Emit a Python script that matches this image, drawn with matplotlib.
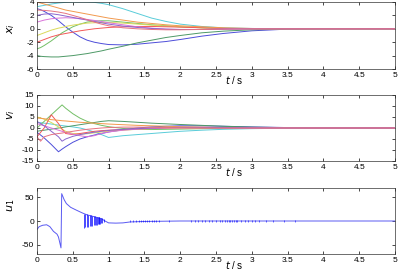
import numpy as np
import matplotlib
matplotlib.use('Agg')
import matplotlib.pyplot as plt

plt.rcParams['font.family'] = ['Liberation Sans', 'DejaVu Sans']
plt.rcParams['axes.unicode_minus'] = False

# common time grid of the read-off points
t = [0, .05, .1, .2, .3, .35, .4, .5, .6, .7, .8, .9, 1.0, 1.2, 1.4, 1.6, 1.8,
     2.0, 2.3, 2.6, 3.0, 3.5, 4.0, 5.0]

colors = [(0.35, 0.8, 0.85), (0.3, 0.3, 0.85), (0.3, 0.6, 0.4), (0.45, 0.75, 0.4),
          (0.85, 0.85, 0.35), (0.95, 0.35, 0.35), (0.95, 0.6, 0.3), (0.85, 0.45, 0.85),
          (0.55, 0.4, 0.8), (0.9, 0.45, 0.5)]

# states x_i
x_cyan = [3.3, 3.4, 3.5, 3.7, 3.85, 3.9, 3.95, 4.0, 4.0, 4.0, 3.95, 3.8, 3.6, 3.0, 2.3, 1.6, 1.1, 0.7, 0.35, 0.15, 0.05, 0.0, 0.0, 0.0]
x_blue = [3.0, 2.85, 2.6, 2.0, 1.2, 0.75, 0.3, -0.5, -1.2, -1.7, -2.0, -2.2, -2.35, -2.4, -2.3, -2.1, -1.9, -1.6, -1.1, -0.7, -0.3, -0.05, 0.0, 0.0]
x_dgreen = [-4.0, -4.1, -4.15, -4.2, -4.2, -4.15, -4.1, -4.0, -3.85, -3.7, -3.5, -3.3, -3.05, -2.6, -2.1, -1.7, -1.3, -1.0, -0.6, -0.35, -0.15, -0.05, 0.0, 0.0]
x_lgreen = [-3.0, -2.8, -2.5, -1.8, -1.0, -0.6, -0.3, 0.3, 0.7, 1.0, 1.15, 1.2, 1.2, 1.0, 0.8, 0.6, 0.45, 0.3, 0.15, 0.05, 0.0, 0.0, 0.0, 0.0]
x_yellow = [-1.0, -0.8, -0.6, -0.2, 0.1, 0.2, 0.35, 0.55, 0.7, 0.85, 0.9, 0.95, 0.95, 0.85, 0.7, 0.55, 0.4, 0.3, 0.15, 0.05, 0.0, 0.0, 0.0, 0.0]
x_red = [-2.0, -1.8, -1.6, -1.2, -0.9, -0.8, -0.7, -0.5, -0.3, -0.15, 0.0, 0.1, 0.2, 0.3, 0.35, 0.35, 0.3, 0.25, 0.15, 0.05, 0.0, 0.0, 0.0, 0.0]
x_orange = [4.0, 3.85, 3.7, 3.4, 3.1, 2.95, 2.8, 2.6, 2.4, 2.2, 2.0, 1.8, 1.6, 1.3, 1.0, 0.8, 0.6, 0.45, 0.3, 0.15, 0.05, 0.0, 0.0, 0.0]
x_magenta = [1.0, 1.15, 1.3, 1.5, 1.6, 1.62, 1.65, 1.6, 1.5, 1.4, 1.25, 1.1, 0.9, 0.6, 0.3, 0.1, -0.05, -0.1, -0.1, -0.05, 0.0, 0.0, 0.0, 0.0]
x_purple = [2.0, 2.1, 2.2, 2.25, 2.1, 2.0, 1.9, 1.7, 1.5, 1.3, 1.1, 0.9, 0.7, 0.4, 0.2, 0.05, -0.05, -0.1, -0.1, -0.05, 0.0, 0.0, 0.0, 0.0]
x_red2 = [2.8, 2.78, 2.75, 2.65, 2.5, 2.4, 2.3, 2.0, 1.7, 1.35, 1.0, 0.7, 0.45, 0.15, 0.0, -0.1, -0.15, -0.15, -0.1, -0.05, 0.0, 0.0, 0.0, 0.0]
x_all = [x_cyan, x_blue, x_dgreen, x_lgreen, x_yellow, x_red, x_orange, x_magenta, x_purple, x_red2]

# velocities v_i
v_cyan = [2.5, 2.4, 2.2, 1.8, 1.3, 1.1, 0.9, 0.5, 0.0, -0.8, -1.8, -3.0, -4.3, -3.5, -3.0, -2.5, -2.0, -1.5, -1.0, -0.6, -0.3, -0.1, 0.0, 0.0]
v_blue = [-2.0, -3.2, -4.5, -7.5, -10.8, -9.6, -8.5, -6.5, -5.0, -4.0, -3.2, -2.5, -1.8, -0.8, 0.0, 0.5, 0.8, 1.0, 1.0, 0.8, 0.5, 0.2, 0.0, 0.0]
v_dgreen = [-1.5, -1.2, -1.0, -0.5, 0.0, 0.2, 0.5, 1.0, 1.5, 2.0, 2.5, 3.0, 3.3, 3.0, 2.6, 2.2, 1.9, 1.6, 1.2, 0.8, 0.4, 0.15, 0.05, 0.0]
v_lgreen = [0.0, 1.5, 3.0, 6.0, 9.0, 10.5, 9.0, 6.5, 4.5, 3.0, 2.0, 1.2, 0.6, -0.2, -0.6, -0.7, -0.6, -0.5, -0.3, -0.15, -0.05, 0.0, 0.0, 0.0]
v_yellow = [5.0, 4.6, 4.0, 2.5, 0.5, -0.5, -1.5, -2.5, -2.8, -2.6, -2.2, -1.8, -1.5, -1.0, -0.6, -0.3, -0.1, 0.0, 0.0, 0.0, 0.0, 0.0, 0.0, 0.0]
v_red = [-4.0, -2.0, 0.0, 6.0, 2.0, -0.5, -2.5, -3.0, -2.5, -2.0, -1.5, -1.2, -1.0, -0.7, -0.4, -0.2, 0.0, 0.1, 0.1, 0.05, 0.0, 0.0, 0.0, 0.0]
v_orange = [4.5, 4.4, 4.2, 3.8, 3.5, 3.3, 3.2, 2.9, 2.6, 2.4, 2.2, 2.0, 1.8, 1.5, 1.2, 1.0, 0.8, 0.6, 0.4, 0.2, 0.1, 0.0, 0.0, 0.0]
v_magenta = [2.0, 1.5, 1.0, 0.0, -1.0, -1.5, -2.0, -2.8, -3.5, -4.0, -3.5, -2.5, -1.8, -1.0, -0.5, -0.2, 0.0, 0.1, 0.1, 0.05, 0.0, 0.0, 0.0, 0.0]
v_purple = [3.0, 2.0, 1.0, -1.5, -4.0, -6.0, -5.0, -3.8, -3.0, -2.4, -1.9, -1.5, -1.1, -0.6, -0.3, 0.0, 0.2, 0.3, 0.3, 0.2, 0.1, 0.0, 0.0, 0.0]
v_red2 = [-4.0, -6.0, -4.0, -3.0, -2.5, -2.3, -2.0, -1.5, -1.0, -0.6, -0.3, 0.0, 0.2, 0.4, 0.4, 0.3, 0.2, 0.1, 0.05, 0.0, 0.0, 0.0, 0.0, 0.0]
v_all = [v_cyan, v_blue, v_dgreen, v_lgreen, v_yellow, v_red, v_orange, v_magenta, v_purple, v_red2]

# control input u_1 (smooth part)
u_t = [0, 0.03, 0.08, 0.135, 0.18, 0.23, 0.28, 0.3, 0.335, 0.345, 0.38, 0.41, 0.47,
       0.55, 0.62, 0.65, 0.7, 0.8, 0.9, 0.95, 1.0, 1.1, 1.2, 1.3, 1.5, 2.0, 5.0]
u_val = [-18, -12, -9, -8, -12, -22, -28, -34, -57, 58, 45, 37, 29,
         23, 18, 16, 13, 9, 5, 0, -4, -4.5, -4, -2, -1, 0, 0]
# chattering spikes
ch1_t = [0.655, 0.675, 0.695, 0.715, 0.735, 0.755, 0.775, 0.79, 0.805, 0.82, 0.835,
         0.85, 0.86, 0.87, 0.88, 0.89, 0.91, 0.94]
ch1_lo = [-14, -13.5, -13, -12, -11.5, -11, -10, -9.5, -9, -8, -7.5, -7, -6.5, -6, -5.5, -5, -4, -3]
ch1_hi = [15, 14.5, 14, 13, 12.5, 12, 11, 10.5, 10, 9.5, 9, 8.5, 8, 7.5, 7, 6.5, 5.5, 4]
ch2_t = [1.30, 1.34, 1.38, 1.42, 1.45, 1.48, 1.51, 1.54, 1.57, 1.60, 1.63,
         1.66, 1.70, 1.85, 2.15, 2.20, 2.25, 2.30, 2.35, 2.40, 2.45, 2.50, 2.55, 2.58,
         2.62, 2.65, 2.68, 2.70, 2.72, 2.75, 2.78, 2.80, 2.85, 2.90, 2.95, 3.00, 3.05,
         3.10, 3.20, 3.30, 3.45, 3.60]
ch2_lo = -2.5
ch2_hi = 2.0

W, H = 400, 271
fig = plt.figure(figsize=(W / 100, H / 100), dpi=100)
ax1 = fig.add_axes([37 / W, 1 - 69 / H, 358 / W, 67 / H])
ax2 = fig.add_axes([37 / W, 1 - 161 / H, 358 / W, 66 / H])
ax3 = fig.add_axes([37 / W, 1 - 254 / H, 358 / W, 66 / H])

for xs, c in zip(x_all, colors):
    ax1.plot(t, xs, color=c, lw=0.7)
for vs, c in zip(v_all, colors):
    ax2.plot(t, vs, color=c, lw=0.7)

ax3.plot(u_t, u_val, color=(0.35, 0.35, 0.95), lw=0.7)
ax3.vlines(ch1_t, ch1_lo, ch1_hi, color='b', lw=0.5)
ax3.vlines(ch2_t, ch2_lo, ch2_hi, color='b', lw=0.4)

ax1.set_ylim(-6, 4)
ax1.set_yticks([-6, -4, -2, 0, 2, 4])
ax2.set_ylim(-15, 15)
ax2.set_yticks([-15, -10, -5, 0, 5, 10, 15])
ax3.set_ylim(-70, 70)
ax3.set_yticks([-50, 0, 50])

labels = ['$x_i$', '$v_i$', '$u_1$']
ylab_y = [0.61, 0.70, 0.74]
for ax, lab, ly in zip([ax1, ax2, ax3], labels, ylab_y):
    ax.set_xlim(0, 5)
    ax.set_xticks([0, 0.5, 1, 1.5, 2, 2.5, 3, 3.5, 4, 4.5, 5])
    ax.set_xticklabels(['0', '0.5', '1', '1.5', '2', '2.5', '3', '3.5', '4', '4.5', '5'])
    ax.tick_params(direction='in', length=2.5, width=0.5, labelsize=6, pad=2,
                   top=True, right=True, colors='black')
    for s in ax.spines.values():
        s.set_linewidth(0.5)
        s.set_color((0.2, 0.2, 0.2))
    ax.set_xlabel('$t$ / s', fontsize=7)
    ax.xaxis.set_label_coords(0.55, -0.08)
    ax.set_ylabel(lab, fontsize=8)
    ax.yaxis.set_label_coords(-0.055, ly)

fig.savefig('out.png', dpi=100)
